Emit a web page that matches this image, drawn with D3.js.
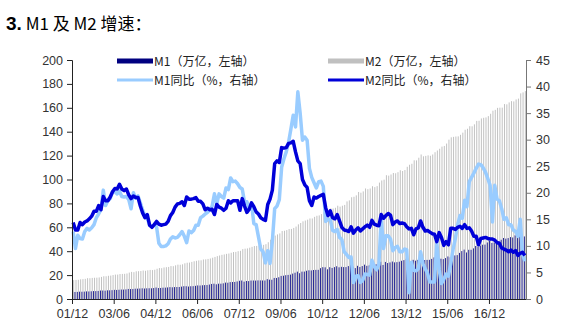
<!DOCTYPE html>
<html><head><meta charset="utf-8">
<script src="https://cdn.jsdelivr.net/npm/d3@7"></script>
<style>
html,body{margin:0;padding:0;background:#fff;}
svg{display:block;}
text{font-family:Arial,"Liberation Sans",sans-serif;}
</style></head>
<body>
<script>
// ---- DATA (monthly, 2001/12 – 2018/03) ----
const startYear = 2001, startMonth = 12;
const xTickLabels = ["01/12","03/06","04/12","06/06","07/12","09/06","10/12","12/06","13/12","15/06","16/12"];
const leftTicks = [0,20,40,60,80,100,120,140,160,180,200];
const rightTicks = [0,5,10,15,20,25,30,35,40,45];

// M1 level (万亿)
const m1 = [5.99,
5.89,5.95,6.12,6.09,6.17,6.37,6.33,6.44,6.62,6.61,6.75,7.09,
7.10,7.00,7.26,7.25,7.42,7.66,7.58,7.75,7.90,7.88,8.05,8.41,
8.31,8.40,8.64,8.65,8.77,8.94,8.77,8.93,9.00,8.96,9.18,9.60,
9.19,9.24,9.49,9.52,9.68,9.96,9.80,9.96,10.04,10.04,10.35,10.73,
10.70,10.42,10.68,10.75,11.02,11.35,11.30,11.51,11.65,11.68,12.09,12.60,
12.82,12.30,12.80,12.82,13.11,13.72,13.63,14.13,14.23,14.28,14.71,15.25,
15.47,14.53,15.07,14.99,15.47,15.49,15.42,15.60,15.57,15.51,15.50,16.62,
16.17,16.12,17.63,17.61,18.22,19.32,19.50,19.91,20.16,20.41,21.25,22.00,
22.90,21.58,22.91,22.95,23.66,24.04,23.93,24.27,24.38,24.41,25.80,26.66,
26.52,24.86,26.63,25.99,26.69,27.42,26.52,26.91,26.70,26.72,27.54,28.98,
27.03,25.85,27.77,26.82,27.57,28.74,27.77,28.11,28.67,28.21,29.05,30.87,
31.20,28.51,31.02,30.11,30.62,31.35,30.66,30.86,31.22,31.99,32.52,33.73,
31.45,31.49,32.78,32.06,32.73,34.15,32.76,32.62,32.74,32.78,33.57,34.81,
34.82,33.12,33.74,33.36,34.24,35.61,34.90,35.56,36.47,36.73,38.58,40.10,
41.33,38.94,41.18,41.19,42.38,44.36,43.77,44.71,45.43,45.54,47.31,48.66,
46.88,47.22,48.82,48.54,49.59,51.05,50.52,50.98,51.80,51.48,53.29,54.38,
54.60,51.20,52.35];

// M2 level (万亿)
const m2 = [15.83,
15.96,16.07,16.50,16.66,16.86,17.43,17.40,17.66,17.79,17.85,18.06,18.50,
19.05,19.03,19.44,19.60,20.05,20.43,20.44,20.90,21.00,21.07,21.35,22.12,
22.69,22.45,23.18,23.29,23.40,23.85,23.62,24.04,24.34,24.21,24.50,25.32,
25.92,25.78,26.42,26.64,26.83,27.55,27.48,28.17,28.77,28.66,29.03,29.88,
30.37,30.48,31.05,31.60,31.97,32.33,32.41,33.05,33.18,33.54,33.91,34.56,
35.20,35.88,36.41,36.97,37.32,37.78,38.07,38.72,39.31,39.42,40.02,40.34,
41.76,42.13,42.31,42.94,43.66,44.31,44.42,44.89,45.29,45.31,45.89,47.52,
49.60,50.67,53.06,54.05,54.89,56.89,57.10,57.68,58.54,58.64,59.47,60.62,
62.50,63.60,64.99,65.67,66.40,67.39,67.41,68.75,69.64,69.97,71.04,72.58,
73.33,73.61,75.81,75.73,76.34,78.08,77.29,78.07,78.74,81.68,82.53,85.16,
85.58,86.75,89.56,88.96,90.06,92.50,91.92,92.49,94.37,93.64,94.46,97.42,
99.21,99.86,103.61,103.25,104.21,105.45,105.22,106.13,107.74,107.10,107.93,110.65,
112.35,113.18,116.07,116.00,118.24,120.96,119.41,119.76,120.21,119.87,120.96,122.84,
124.27,125.74,127.53,128.08,130.09,133.34,135.31,135.69,135.98,136.10,137.40,139.23,
141.63,142.46,144.62,144.52,146.17,149.05,149.16,151.10,151.64,151.95,153.04,155.01,
157.59,158.29,159.96,160.14,160.14,163.13,162.90,164.52,165.57,165.34,167.00,167.68,
172.08,172.91,173.99];

// M1 同比 (%)
const m1yoy = [12.7,
9.5,12.0,11.4,11.3,12.7,13.3,13.0,13.4,14.0,15.3,16.0,16.8,
20.5,17.6,18.6,18.9,20.2,20.2,19.8,20.3,19.3,19.2,19.3,18.7,
17.0,20.0,19.0,19.4,18.1,16.7,15.7,15.2,13.9,13.7,14.0,13.6,
10.5,9.9,9.9,10.0,10.4,11.3,11.7,11.5,11.6,12.1,12.7,11.8,
10.6,12.8,12.5,12.9,13.9,13.9,15.3,15.6,16.0,16.3,16.8,17.5,
19.8,17.9,19.8,19.3,19.0,20.9,20.6,22.8,22.1,22.2,21.7,21.0,
20.7,18.2,18.3,16.9,18.0,14.2,14.0,11.7,9.4,8.9,6.8,9.1,
6.7,10.9,17.0,17.5,18.7,24.8,26.4,27.7,29.5,32.0,34.6,32.4,
39.0,35.0,29.9,30.5,29.9,24.6,22.9,21.9,20.9,22.1,22.2,21.2,
14.6,15.0,15.0,12.9,12.7,13.1,11.6,11.2,8.9,8.4,7.8,7.9,
3.1,4.3,4.4,3.1,3.5,4.7,4.6,4.5,7.3,6.1,5.5,6.5,
15.3,9.5,11.9,11.9,11.3,9.1,9.7,9.9,8.9,8.9,9.4,9.3,
1.2,6.9,5.4,5.3,5.7,8.9,6.7,5.7,4.8,3.2,3.2,3.2,
10.6,5.6,2.9,3.7,4.7,4.3,6.6,9.3,11.4,14.0,15.7,15.2,
18.6,17.4,22.1,22.9,23.7,24.6,25.4,25.3,24.7,23.9,22.7,21.4,
14.5,21.4,18.8,18.5,17.0,15.0,15.3,14.0,14.0,13.0,12.7,11.8,
15.0,8.5,7.1];

// M2 同比 (%)
const m2yoy = [14.4,
13.0,13.0,14.4,14.0,14.5,14.7,15.1,15.6,16.5,16.5,17.6,16.8,
19.3,18.5,18.5,19.2,20.2,20.8,20.7,21.6,20.7,20.4,20.7,19.6,
18.9,19.4,19.1,19.1,17.5,16.2,15.3,15.9,13.9,13.5,14.0,14.6,
14.1,13.9,14.0,14.1,14.6,15.7,16.3,17.3,17.9,18.0,18.3,17.6,
19.2,18.8,18.8,18.9,19.1,18.4,18.4,17.9,16.8,17.1,16.8,16.9,
15.9,17.8,17.3,17.1,16.7,17.1,18.5,18.1,18.5,18.5,18.5,16.7,
18.9,17.5,16.3,16.9,18.1,17.4,16.4,16.0,15.3,15.0,14.8,17.8,
18.8,20.5,25.5,26.0,25.7,28.5,28.4,28.5,29.3,29.4,29.7,27.7,
26.0,25.5,22.5,21.5,21.0,18.5,17.6,19.2,19.0,19.3,19.5,19.7,
17.2,15.7,16.6,15.3,15.1,15.9,14.7,13.5,13.0,12.9,12.7,13.6,
12.4,13.0,13.4,12.8,13.2,13.6,13.9,13.5,14.8,14.1,13.9,13.8,
15.9,15.2,15.7,16.1,15.8,14.0,14.5,14.7,14.2,14.3,14.2,13.6,
13.2,13.3,12.1,13.2,13.4,14.7,13.5,12.8,12.9,12.6,12.3,12.2,
10.8,12.5,11.6,10.1,10.8,10.2,13.3,13.3,13.1,13.5,13.7,13.3,
14.0,13.3,13.4,12.8,11.8,11.8,10.2,11.4,11.5,11.6,11.4,11.3,
11.3,11.1,10.6,10.5,9.6,9.4,9.2,8.9,9.2,8.8,9.1,8.2,
8.6,8.8,8.2];

// category labels (yy/mm)
const categories = m2.map((_, i) => {
  const t = (startYear * 12 + startMonth - 1) + i;
  const y = Math.floor(t / 12), mo = t % 12 + 1;
  return String(y % 100).padStart(2, "0") + "/" + String(mo).padStart(2, "0");
});

// ---- LAYOUT ----
const W = 561, H = 335;
const L = 72, R = 526, T = 60, B = 299;

const svg = d3.select("body").append("svg").attr("width", W).attr("height", H);

const x = d3.scaleBand().domain(categories).range([L, R]).padding(0);
const yL = d3.scaleLinear().domain([0, 200]).range([B, T]);
const yR = d3.scaleLinear().domain([0, 45]).range([B, T]);
const bw = x.bandwidth();

// Title
svg.append("text").attr("x", 6).attr("y", 30)
  .style("font-family", "'Noto Sans CJK SC',sans-serif").style("font-size", "17px").attr("fill", "#000")
  .call(t => {
    t.append("tspan").style("font-family", "Arial,'Liberation Sans'").style("font-weight", "bold").style("font-size", "19px").text("3.");
    t.append("tspan").text(" M1 及 M2 增速：");
  });

// Bars
const g = svg.append("g");
g.selectAll("rect.m2").data(m2).join("rect").attr("class", "m2")
  .attr("x", (d, i) => x(categories[i]) + bw * 0.52)
  .attr("width", bw * 0.42)
  .attr("y", d => yL(d)).attr("height", d => yL(0) - yL(d))
  .attr("fill", "#c0c0c0");
g.selectAll("rect.m1").data(m1).join("rect").attr("class", "m1")
  .attr("x", (d, i) => x(categories[i]) + bw * 0.1)
  .attr("width", bw * 0.36)
  .attr("y", d => yL(d)).attr("height", d => yL(0) - yL(d))
  .attr("fill", "#000080");

// Lines
const line = d3.line().x((d, i) => x(categories[i]) + bw / 2).y(d => yR(d));
svg.append("path").datum(m1yoy).attr("d", line).attr("fill", "none")
  .attr("stroke", "#99ccff").attr("stroke-width", 3.5).attr("stroke-linejoin", "round");
svg.append("path").datum(m2yoy).attr("d", line).attr("fill", "none")
  .attr("stroke", "#0000d8").attr("stroke-width", 3.5).attr("stroke-linejoin", "round");

// Axes
const axL = d3.axisLeft(yL).tickValues(leftTicks).tickSize(5).tickPadding(4);
const gL = svg.append("g").attr("transform", `translate(${L},0)`).call(axL);
const axR = d3.axisRight(yR).tickValues(rightTicks).tickSize(5).tickPadding(5);
const gR = svg.append("g").attr("transform", `translate(${R},0)`).call(axR);
const tickIdx = xTickLabels.map(lbl => categories.indexOf(lbl));
const xPos = d3.scaleOrdinal().domain(xTickLabels).range(tickIdx.map(i => x(categories[i])));
const axB = d3.axisBottom(xPos).tickSize(5).tickPadding(5).tickSizeOuter(0);
const gB = svg.append("g").attr("transform", `translate(0,${B})`).call(axB);
gB.select(".domain").attr("d", `M${L},0.5H${R}`);

[gL, gR, gB].forEach(ax => {
  ax.selectAll("text").style("font-family", "Arial,'Liberation Sans',sans-serif").style("font-size", "12.5px").attr("fill", "#333");
  ax.selectAll("line,path").attr("stroke", "#222");
});
gR.selectAll("line,path").attr("stroke", "#777");

// Legend
const legend = [
  {name: "M1（万亿，左轴）", type: "bar", color: "#000080", x: 117, y: 61},
  {name: "M2（万亿，左轴）", type: "bar", color: "#c0c0c0", x: 328, y: 61},
  {name: "M1同比（%，右轴）", type: "line", color: "#99ccff", x: 117, y: 80},
  {name: "M2同比（%，右轴）", type: "line", color: "#0000d8", x: 328, y: 80}
];
const lg = svg.append("g");
legend.forEach(d => {
  lg.append("rect").attr("x", d.x).attr("y", d.y - (d.type === "bar" ? 2.5 : 1.5))
    .attr("width", 36).attr("height", d.type === "bar" ? 5 : 3).attr("fill", d.color);
  lg.append("text").attr("x", d.x + 37).attr("y", d.y + 4.5)
    .style("font-family", "'Noto Sans CJK SC',sans-serif").style("font-size", "12px")
    .attr("fill", "#222").text(d.name);
});
</script>
</body></html>
